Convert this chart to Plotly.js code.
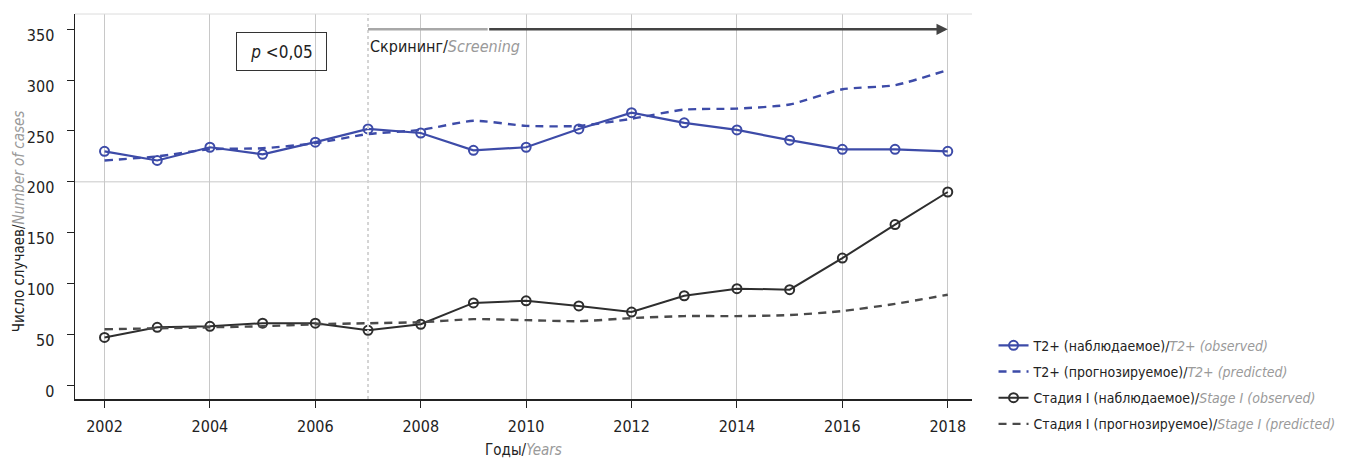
<!DOCTYPE html>
<html>
<head>
<meta charset="utf-8">
<script src="https://cdn.plot.ly/plotly-3.0.1.min.js"></script>
<style>html,body{margin:0;padding:0;background:#fff;}#chart{width:1352px;height:459px;}</style>
</head>
<body>
<div id="chart"></div>
<script>
const years = [2002,2003,2004,2005,2006,2007,2008,2009,2010,2011,2012,2013,2014,2015,2016,2017,2018];
const t2Observed  = [230,221,234,227,239,252,248,231,234,252,268,258,251,241,232,232,230];
const t2Predicted = [221,225,232,233,238,247,251,260,255,255,262,271,272,276,291,295,310];
const s1Observed  = [47,57,58,61,61,54,60,81,83,78,72,88,95,94,125,158,190];
const s1Predicted = [55,56,57,58,60,61,62,65,64,63,66,68,68,69,73,80,89];
const yTicks = [0,50,100,150,200,250,300,350];
const xTicks = [2002,2004,2006,2008,2010,2012,2014,2016,2018];
const names = [
  'T2+ (наблюдаемое)/<i><span style="color:#9a9a9a">T2+ (observed)</span></i>',
  'T2+ (прогнозируемое)/<i><span style="color:#9a9a9a">T2+ (predicted)</span></i>',
  'Стадия I (наблюдаемое)/<i><span style="color:#9a9a9a">Stage I (observed)</span></i>',
  'Стадия I (прогнозируемое)/<i><span style="color:#9a9a9a">Stage I (predicted)</span></i>'
];
const screenStart = 2007, screenEnd = 2018, screenLevel = 350, screenFade = 2009.27;

const FONT = '"DejaVu Sans Condensed", "Liberation Sans Narrow", sans-serif';
const BLUE = '#3d4ba8', DARK = '#2e2e2e', DARKDASH = '#4a4a4a';

const traces = [
  {x: years, y: t2Observed, name: names[0], legendgroup: 'a', mode: 'lines+markers',
   line: {color: BLUE, width: 2.2},
   marker: {symbol: 'circle-open', size: 9, color: BLUE, line: {width: 2, color: BLUE}}},
  {x: years, y: t2Predicted, name: names[1], legendgroup: 'b', mode: 'lines',
   line: {color: BLUE, width: 2.4, dash: '8px,6px', shape: 'spline', smoothing: 0.6}},
  {x: years, y: s1Observed, name: names[2], legendgroup: 'c', mode: 'lines+markers',
   line: {color: DARK, width: 2},
   marker: {symbol: 'circle-open', size: 9, color: DARK, line: {width: 2, color: DARK}}},
  {x: years, y: s1Predicted, name: names[3], legendgroup: 'd', mode: 'lines',
   line: {color: DARKDASH, width: 2.4, dash: '8px,6px', shape: 'spline', smoothing: 0.6}}
];

const layout = {
  width: 1352, height: 459,
  margin: {l: 75, r: 380, t: 14, b: 60, pad: 0, autoexpand: false},
  paper_bgcolor: '#fff', plot_bgcolor: '#fff',
  font: {family: FONT, size: 16, color: '#222'},
  showlegend: true,
  legend: {x: 1.024, y: 0.18, xanchor: 'left', yanchor: 'top',
           font: {family: FONT, size: 14, color: '#222'}, tracegroupgap: 5,
           bgcolor: 'rgba(0,0,0,0)'},
  xaxis: {range: [2001.44, 2018.46], tickvals: xTicks, ticks: 'outside', ticklen: 7,
          tickcolor: '#222', showline: true, linecolor: '#222', linewidth: 1.5,
          showgrid: true, gridcolor: '#c8c8c8', gridwidth: 1, zeroline: false,
          tickfont: {family: FONT, size: 16}, ticklabelstandoff: 5,
          title: {text: 'Годы/<i><span style="color:#9a9a9a">Years</span></i>', font: {family: FONT, size: 15}, standoff: 12}},
  yaxis: {range: [-13.5, 365], tickvals: yTicks, ticks: 'outside', ticklen: 7,
          tickcolor: '#222', showline: true, linecolor: '#222', linewidth: 1.5,
          showgrid: false, zeroline: false, ticklabelshift: 6, ticklabelstandoff: 9,
          tickfont: {family: FONT, size: 16}},
  shapes: [
    {type: 'line', xref: 'paper', yref: 'y', x0: 0, x1: 0.975, y0: 200, y1: 200,
     line: {color: '#c8c8c8', width: 1}},
    {type: 'line', xref: 'paper', yref: 'paper', x0: 0, x1: 1, y0: 1, y1: 1,
     line: {color: '#dcdcdc', width: 1}},
    {type: 'line', xref: 'x', yref: 'paper', x0: screenStart, x1: screenStart, y0: 0, y1: 1,
     line: {color: '#d4d4d4', width: 2, dash: 'dot'}},
    {type: 'line', xref: 'x', yref: 'y', x0: screenStart, x1: screenFade, y0: screenLevel, y1: screenLevel,
     line: {color: '#a8a8a8', width: 2.5}}
  ],
  annotations: [
    {x: screenEnd, y: screenLevel, ax: screenFade, ay: screenLevel, axref: 'x', ayref: 'y',
     xref: 'x', yref: 'y', showarrow: true, arrowhead: 2, arrowsize: 0.9, arrowwidth: 2.5,
     arrowcolor: '#444', text: ''},
    {x: screenStart, y: screenLevel, xref: 'x', yref: 'y', xanchor: 'left', yanchor: 'top',
     yshift: -6, showarrow: false,
     text: 'Скрининг/<i><span style="color:#9a9a9a">Screening</span></i>',
     font: {family: FONT, size: 16, color: '#222'}},
    {x: 2005.36, y: 328, xref: 'x', yref: 'y', showarrow: false,
     text: '<i>p</i> &lt;0,05', font: {family: FONT, size: 17, color: '#222'},
     bordercolor: '#333', borderwidth: 1, borderpad: 3, width: 83, height: 31,
     bgcolor: 'rgba(0,0,0,0)'},
    {x: -0.0624, y: 0.462, xref: 'paper', yref: 'paper', xanchor: 'center', yanchor: 'middle',
     showarrow: false, textangle: -90,
     text: 'Число случаев/<i><span style="color:#9a9a9a">Number of cases</span></i>',
     font: {family: FONT, size: 15, color: '#222'}}
  ]
};

Plotly.newPlot('chart', traces, layout, {staticPlot: true, displayModeBar: false});
</script>
</body>
</html>
